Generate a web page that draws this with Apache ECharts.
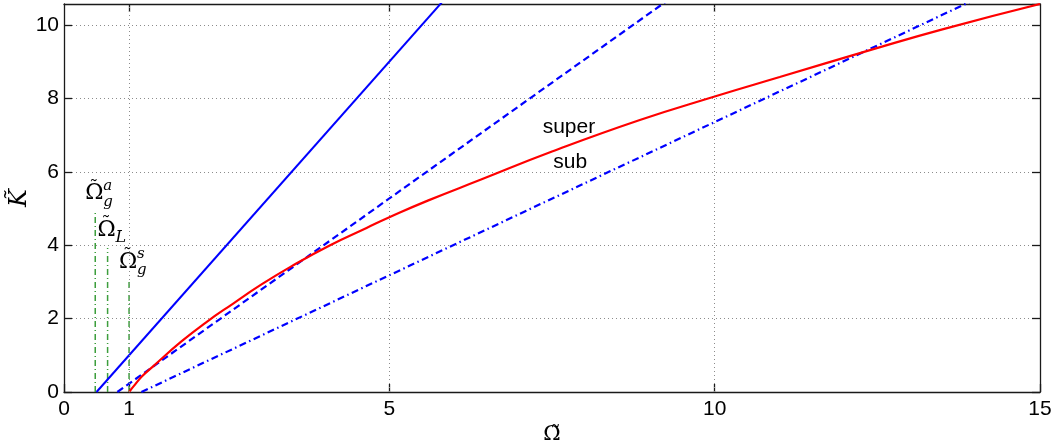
<!DOCTYPE html>
<html>
<head>
<meta charset="utf-8">
<script src="https://cdn.jsdelivr.net/npm/echarts@6/dist/echarts.min.js"></script>
<style>html,body{margin:0;padding:0;background:#fff}#c{width:1057px;height:446px}</style>
</head>
<body>
<div id="c"></div>
<script>
// ---- data ----
const xTicks = [0, 1, 5, 10, 15];
const xGridLines = [1, 5, 10];
const xMin = 0, xMax = 15;
const yMin = 0, yMax = 10.57, yStep = 2;

const blueSolid   = [[0.5, 0], [6.0, 11.0]];
const blueDashed  = [[0.82, 0], [9.5, 10.95]];
const blueDashDot = [[1.19, 0], [14.5, 11.11]];

const redOmega = [1.0, 1.1, 1.2, 1.37, 1.8, 2.2, 2.6, 3.0, 3.5, 4.09, 4.65, 5.0, 5.6, 6.4, 7.5, 8.85, 10.0, 11.0, 12.4, 13.5, 15.0];
const redK     = [0.0, 0.22, 0.43, 0.70, 1.37, 1.92, 2.41, 2.89, 3.43, 4.00, 4.47, 4.76, 5.22, 5.78, 6.55, 7.41, 8.05, 8.58, 9.32, 9.88, 10.57];

const markerOmega = [0.48, 0.67, 1.0];
const markerTop   = [4.91, 3.92, 3.05];
const markerSub   = ['g', 'L', 'g'];
const markerSup   = ['a', '', 's'];

const noteText  = ['super', 'sub'];
const noteOmega = [7.76, 7.78];
const noteK     = [7.22, 6.26];

// ---- chart ----
const chart = echarts.init(document.getElementById('c'), null, {renderer: 'canvas'});
const axisColor = '#1a1a1a';
const tickFont = {fontFamily: 'Liberation Sans', fontSize: 21, color: '#000'};
const gridStyle = {color: '#8c8c8c', width: 1, type: [1, 3]};

const series = [];
series.push({type: 'line', data: blueSolid, symbol: 'none', lineStyle: {color: '#0000ff', width: 2}, z: 3});
series.push({type: 'line', data: blueDashed, symbol: 'none', lineStyle: {color: '#0000ff', width: 2.2, type: [7, 4]}, z: 3});
series.push({type: 'line', data: blueDashDot, symbol: 'none', lineStyle: {color: '#0000ff', width: 2.2, type: [7, 3.5, 1.5, 3.5]}, z: 3});
series.push({type: 'line', data: redOmega.map((o, i) => [o, redK[i]]), symbol: 'none', smooth: 0.5,
  lineStyle: {color: '#ff0000', width: 2.2}, z: 4});
markerOmega.forEach((o, i) => {
  series.push({type: 'line', data: [[o, 0], [o, markerTop[i]]], symbol: 'none',
    lineStyle: {color: '#3d9e3d', width: 1.5, type: [6, 3, 1, 3]}, z: 2});
});
// vertical dotted grid lines
series.push({type: 'line', data: [], symbol: 'none', silent: true,
  markLine: {silent: true, symbol: 'none', label: {show: false}, lineStyle: gridStyle,
    data: xGridLines.map(v => ({xAxis: v}))}, z: 1});

chart.setOption({
  animation: false,
  grid: {left: 64, right: 17, top: 4, bottom: 54, containLabel: false, outerBoundsMode: 'none'},
  xAxis: [{
    type: 'value', min: xMin, max: xMax, position: 'bottom',
    axisLine: {show: true, onZero: false, lineStyle: {color: axisColor, width: 1.3}},
    axisTick: {show: true, inside: true, length: 8, customValues: xTicks, lineStyle: {color: axisColor, width: 1.3}},
    axisLabel: {show: true, customValues: xTicks, margin: 7, ...tickFont},
    splitLine: {show: false},
    name: 'Ω\u0303', nameLocation: 'middle', nameGap: 32, nameMoveOverlap: false,
    nameTextStyle: {fontFamily: 'DejaVu Serif', fontSize: 21, color: '#000'}
  }, {
    type: 'value', min: xMin, max: xMax, position: 'top',
    axisLine: {show: true, onZero: false, lineStyle: {color: axisColor, width: 1.3}},
    axisTick: {show: true, inside: true, length: 8, customValues: xGridLines, lineStyle: {color: axisColor, width: 1.3}},
    axisLabel: {show: false}, splitLine: {show: false}
  }],
  yAxis: [{
    type: 'value', min: yMin, max: yMax, interval: yStep, position: 'left',
    axisLine: {show: true, onZero: false, lineStyle: {color: axisColor, width: 1.3}},
    axisTick: {show: true, inside: true, length: 8, lineStyle: {color: axisColor, width: 1.3}},
    axisLabel: {show: true, margin: 5, showMaxLabel: false, ...tickFont},
    splitLine: {show: true, lineStyle: gridStyle},
    name: 'K\u0303', nameLocation: 'middle', nameGap: 32, nameRotate: 90, nameMoveOverlap: false,
    nameTextStyle: {fontFamily: 'DejaVu Serif', fontStyle: 'italic', fontSize: 24, color: '#000'}
  }, {
    type: 'value', min: yMin, max: yMax, interval: yStep, position: 'right',
    axisLine: {show: true, onZero: false, lineStyle: {color: axisColor, width: 1.3}},
    axisTick: {show: true, inside: true, length: 8, lineStyle: {color: axisColor, width: 1.3}},
    axisLabel: {show: false}, splitLine: {show: false}
  }],
  series: series
});

// annotation texts placed through the axes
const graphics = [];
markerOmega.forEach((o, i) => {
  const p = chart.convertToPixel({gridIndex: 0}, [o, markerTop[i]]);
  const baseX = p[0] - 10, baseY = p[1] - 7;
  graphics.push({type: 'text', x: baseX, y: baseY, style: {text: 'Ω', fontFamily: 'DejaVu Serif', fontSize: 22, fill: '#000', align: 'left', verticalAlign: 'bottom'}});
  graphics.push({type: 'text', x: baseX + 8.5, y: baseY - 7.5, style: {text: '˜', fontFamily: 'DejaVu Serif', fontSize: 18, fill: '#000', align: 'center', verticalAlign: 'bottom'}});
  graphics.push({type: 'text', x: baseX + 18, y: baseY + 5, style: {text: markerSub[i], fontFamily: 'DejaVu Serif', fontStyle: 'italic', fontSize: markerSub[i] === 'L' ? 16 : 15, fill: '#000', align: 'left', verticalAlign: 'bottom'}});
  if (markerSup[i]) {
    graphics.push({type: 'text', x: baseX + 18, y: baseY - 11, style: {text: markerSup[i], fontFamily: 'DejaVu Serif', fontStyle: 'italic', fontSize: 15, fill: '#000', align: 'left', verticalAlign: 'bottom'}});
  }
});
noteText.forEach((t, i) => {
  const p = chart.convertToPixel({gridIndex: 0}, [noteOmega[i], noteK[i]]);
  graphics.push({type: 'text', x: p[0], y: p[1], style: {text: t, fontFamily: 'Liberation Sans', fontSize: 21, fill: '#000', align: 'center', verticalAlign: 'middle'}});
});
chart.setOption({graphic: graphics});
</script>
</body>
</html>
